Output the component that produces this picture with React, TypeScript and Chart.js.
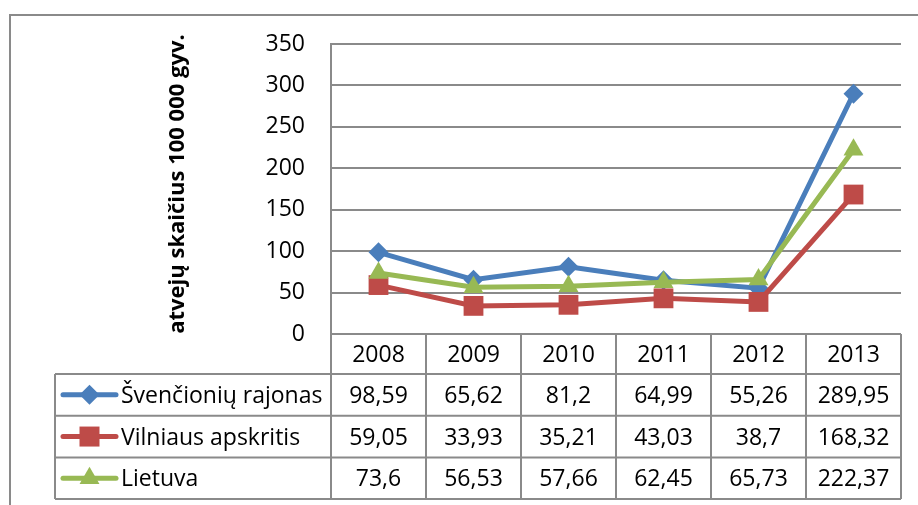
import React, { useEffect, useRef } from "react";
import { Chart, registerables } from "chart.js";

Chart.register(...registerables);

const years = ["2008", "2009", "2010", "2011", "2012", "2013"];
const svencionys = [98.59, 65.62, 81.2, 64.99, 55.26, 289.95];
const vilnius = [59.05, 33.93, 35.21, 43.03, 38.7, 168.32];
const lietuva = [73.6, 56.53, 57.66, 62.45, 65.73, 222.37];
const seriesNames = ["Švenčionių rajonas", "Vilniaus apskritis", "Lietuva"];
const seriesColors = ["#4A7EBB", "#BE4B48", "#98B954"];
const yMin = 0;
const yMax = 350;
const yStep = 50;
const yTitle = "atvejų skaičius 100 000 gyv.";

const FONT = "'Open Sans', sans-serif";
const FS = 23;
const GRID = "#8a8a8a";

const fmt = (v: number) => String(v).replace(".", ",");

function drawMarker(ctx: CanvasRenderingContext2D, kind: number, x: number, y: number, color: string) {
  ctx.save();
  ctx.fillStyle = color;
  ctx.beginPath();
  if (kind === 0) {
    const r = 10;
    ctx.moveTo(x, y - r);
    ctx.lineTo(x + r, y);
    ctx.lineTo(x, y + r);
    ctx.lineTo(x - r, y);
    ctx.closePath();
  } else if (kind === 1) {
    const h = 10;
    ctx.rect(x - h, y - h, 2 * h, 2 * h);
  } else {
    const r = 11.5;
    ctx.moveTo(x, y - r);
    ctx.lineTo(x + r * 0.866, y + r * 0.5);
    ctx.lineTo(x - r * 0.866, y + r * 0.5);
    ctx.closePath();
  }
  ctx.fill();
  ctx.restore();
}

const tablePlugin = {
  id: "dataTable",
  beforeDraw(chart: any) {
    const ctx = chart.ctx as CanvasRenderingContext2D;
    ctx.save();
    ctx.strokeStyle = GRID;
    ctx.lineWidth = 2;
    ctx.strokeRect(10, 15, 2000, 2000);
    ctx.restore();
  },
  afterDraw(chart: any) {
    const ctx = chart.ctx as CanvasRenderingContext2D;
    const area = chart.chartArea;
    const xs = chart.scales.x;
    const left = area.left;
    const right = area.right;
    const top = area.bottom;
    const n = years.length;
    const colW = (right - left) / n;
    const headerH = 40;
    const rowH = 41.7;
    const legendLeft = 55;
    const tableBottom = top + headerH + rowH * 3;

    ctx.save();
    ctx.strokeStyle = GRID;
    ctx.lineWidth = 2;
    ctx.beginPath();
    ctx.moveTo(left, top);
    ctx.lineTo(right, top);
    for (let r = 0; r <= 3; r++) {
      const y = top + headerH + rowH * r;
      ctx.moveTo(legendLeft, y);
      ctx.lineTo(right, y);
    }
    for (let c = 0; c <= n; c++) {
      const x = left + c * colW;
      ctx.moveTo(x, top);
      ctx.lineTo(x, tableBottom);
    }
    ctx.moveTo(legendLeft, top + headerH);
    ctx.lineTo(legendLeft, tableBottom);
    ctx.stroke();

    ctx.fillStyle = "#000";
    ctx.font = `${FS}px ${FONT}`;
    ctx.textAlign = "center";
    ctx.textBaseline = "alphabetic";
    years.forEach((yr, i) => {
      const cx = xs.getPixelForValue(i);
      ctx.fillText(yr, cx, top + headerH / 2 + 8);
    });
    const all = [svencionys, vilnius, lietuva];
    all.forEach((vals, r) => {
      const cy = top + headerH + rowH * r + rowH / 2;
      ctx.textAlign = "center";
      ctx.fillStyle = "#000";
      vals.forEach((v, i) => {
        const cx = xs.getPixelForValue(i);
        ctx.fillText(fmt(v), cx, cy + 8);
      });
      ctx.strokeStyle = seriesColors[r];
      ctx.lineWidth = 5;
      ctx.lineCap = "round";
      ctx.beginPath();
      ctx.moveTo(63, cy);
      ctx.lineTo(116, cy);
      ctx.stroke();
      drawMarker(ctx, r, 89.5, cy, seriesColors[r]);
      ctx.fillStyle = "#000";
      ctx.textAlign = "left";
      ctx.fillText(seriesNames[r], 121, cy + 8);
    });

    ctx.save();
    ctx.translate(184, 184);
    ctx.rotate(-Math.PI / 2);
    ctx.font = `bold 22px ${FONT}`;
    ctx.textAlign = "center";
    ctx.fillStyle = "#000";
    ctx.fillText(yTitle, 0, 0);
    ctx.restore();

    ctx.restore();
  },
};

export default function App() {
  const ref = useRef<HTMLCanvasElement | null>(null);
  useEffect(() => {
    if (!ref.current) return;
    const mk = (label: string, data: number[], idx: number, style: string, radius: number, order: number) => ({
      label,
      data,
      borderColor: seriesColors[idx],
      backgroundColor: seriesColors[idx],
      pointBackgroundColor: seriesColors[idx],
      pointBorderColor: seriesColors[idx],
      pointBorderWidth: 0,
      borderWidth: 5,
      pointStyle: style,
      pointRadius: radius,
      pointHoverRadius: radius,
      tension: 0,
      order,
    });
    const chart = new Chart(ref.current, {
      type: "line",
      data: {
        labels: years,
        datasets: [
          mk(seriesNames[0], svencionys, 0, "rectRot", 10, 3),
          mk(seriesNames[1], vilnius, 1, "rect", 14, 2),
          mk(seriesNames[2], lietuva, 2, "triangle", 11.5, 1),
        ] as any,
      },
      options: {
        animation: false,
        responsive: true,
        maintainAspectRatio: false,
        layout: { padding: { left: 0, right: 17, top: 44, bottom: 171 } },
        plugins: { legend: { display: false }, tooltip: { enabled: false } },
        scales: {
          x: {
            type: "category",
            offset: true,
            display: false,
          },
          y: {
            min: yMin,
            max: yMax,
            afterFit: (s: any) => {
              s.width = 331;
            },
            ticks: {
              stepSize: yStep,
              padding: 26,
              color: "#000",
              font: { family: FONT, size: FS },
            },
            grid: { color: GRID, lineWidth: 2, drawTicks: false },
            border: { display: true, color: GRID, width: 2 },
          },
        },
      },
      plugins: [tablePlugin],
    });
    return () => chart.destroy();
  }, []);
  return (
    <div style={{ position: "fixed", left: 0, top: 0, width: 918, height: 505, background: "#fff" }}>
      <canvas ref={ref} />
    </div>
  );
}
